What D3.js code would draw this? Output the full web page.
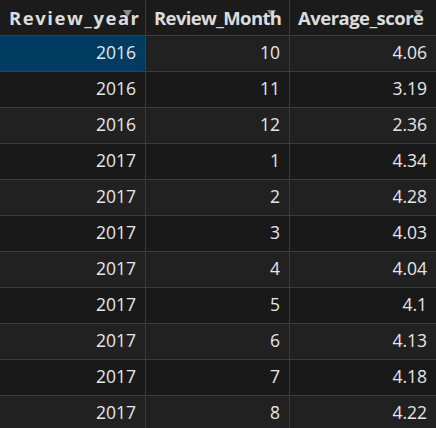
<!DOCTYPE html>
<html><head><meta charset="utf-8">
<script src="https://cdn.jsdelivr.net/npm/d3@7"></script>
<style>body{margin:0;background:#1b1b1b;overflow:hidden}</style>
</head><body><div id="chart"></div>
<script>
const columns = ["Review_year", "Review_Month", "Average_score"];
const years = [2016, 2016, 2016, 2017, 2017, 2017, 2017, 2017, 2017, 2017, 2017];
const months = [10, 11, 12, 1, 2, 3, 4, 5, 6, 7, 8];
const scores = ["4.06", "3.19", "2.36", "4.34", "4.28", "4.03", "4.04", "4.1", "4.13", "4.18", "4.22"];

const width = 436, height = 428, headH = 35, rowH = 36;
const colEdges = [0, 145, 289, 436];
const svg = d3.select("#chart").append("svg").attr("width", width).attr("height", height);
svg.append("rect").attr("width", width).attr("height", height).attr("fill", "#1b1b1b");

const rows = years.map((y, i) => [y, months[i], scores[i]]);
const y = d3.scaleLinear().domain([0, 1]).range([headH, headH + rowH]);

// 行
const g = svg.selectAll(".row").data(rows).join("g").attr("class", "row")
    .attr("transform", (d, i) => `translate(0,${y(i)})`);
g.append("rect").attr("width", width).attr("height", rowH)
    .attr("fill", (d, i) => i % 2 == 0 ? "#212121" : "#191919");
g.each(function (d, i) {
    const r = d3.select(this);
    d.forEach((v, j) => {
        if (i == 0 && j == 0) {
            r.append("rect").attr("x", colEdges[0]).attr("width", colEdges[1] - colEdges[0])
                .attr("height", rowH).attr("fill", "#003b62");
        }
        r.append("text").attr("x", colEdges[j + 1] - 9).attr("y", rowH / 2 + 6)
            .attr("text-anchor", "end").attr("fill", "#e6e6e6")
            .style("font", "17.5px 'Open Sans', sans-serif").text(v);
    });
});

// 表头
svg.append("rect").attr("width", width).attr("height", headH).attr("fill", "#1b1b1b");
columns.forEach((c, j) => {
    const tx = colEdges[j + 1] - 22;
    svg.append("path").attr("d", `M${tx},10 L${tx + 9},10 L${tx + 4.5},17 Z`).attr("fill", "#8a8a8a");
    svg.append("text").attr("x", colEdges[j] + 9).attr("y", 25)
        .attr("fill", "#dcdcdc").style("font", "bold 18.5px 'Open Sans', sans-serif")
        .attr("textLength", j == 0 ? 130 : j == 1 ? 128 : 126).text(c);
});

// 网格线
d3.range(rows.length + 1).forEach(i => {
    svg.append("line").attr("x1", 0).attr("x2", width).attr("y1", y(i) + 0.5).attr("y2", y(i) + 0.5)
        .attr("stroke", "#3c3c3c");
});
colEdges.slice(1, 3).forEach(x => {
    svg.append("line").attr("x1", x + 0.5).attr("x2", x + 0.5).attr("y1", 0).attr("y2", height)
        .attr("stroke", "#3c3c3c");
});
</script></body></html>
